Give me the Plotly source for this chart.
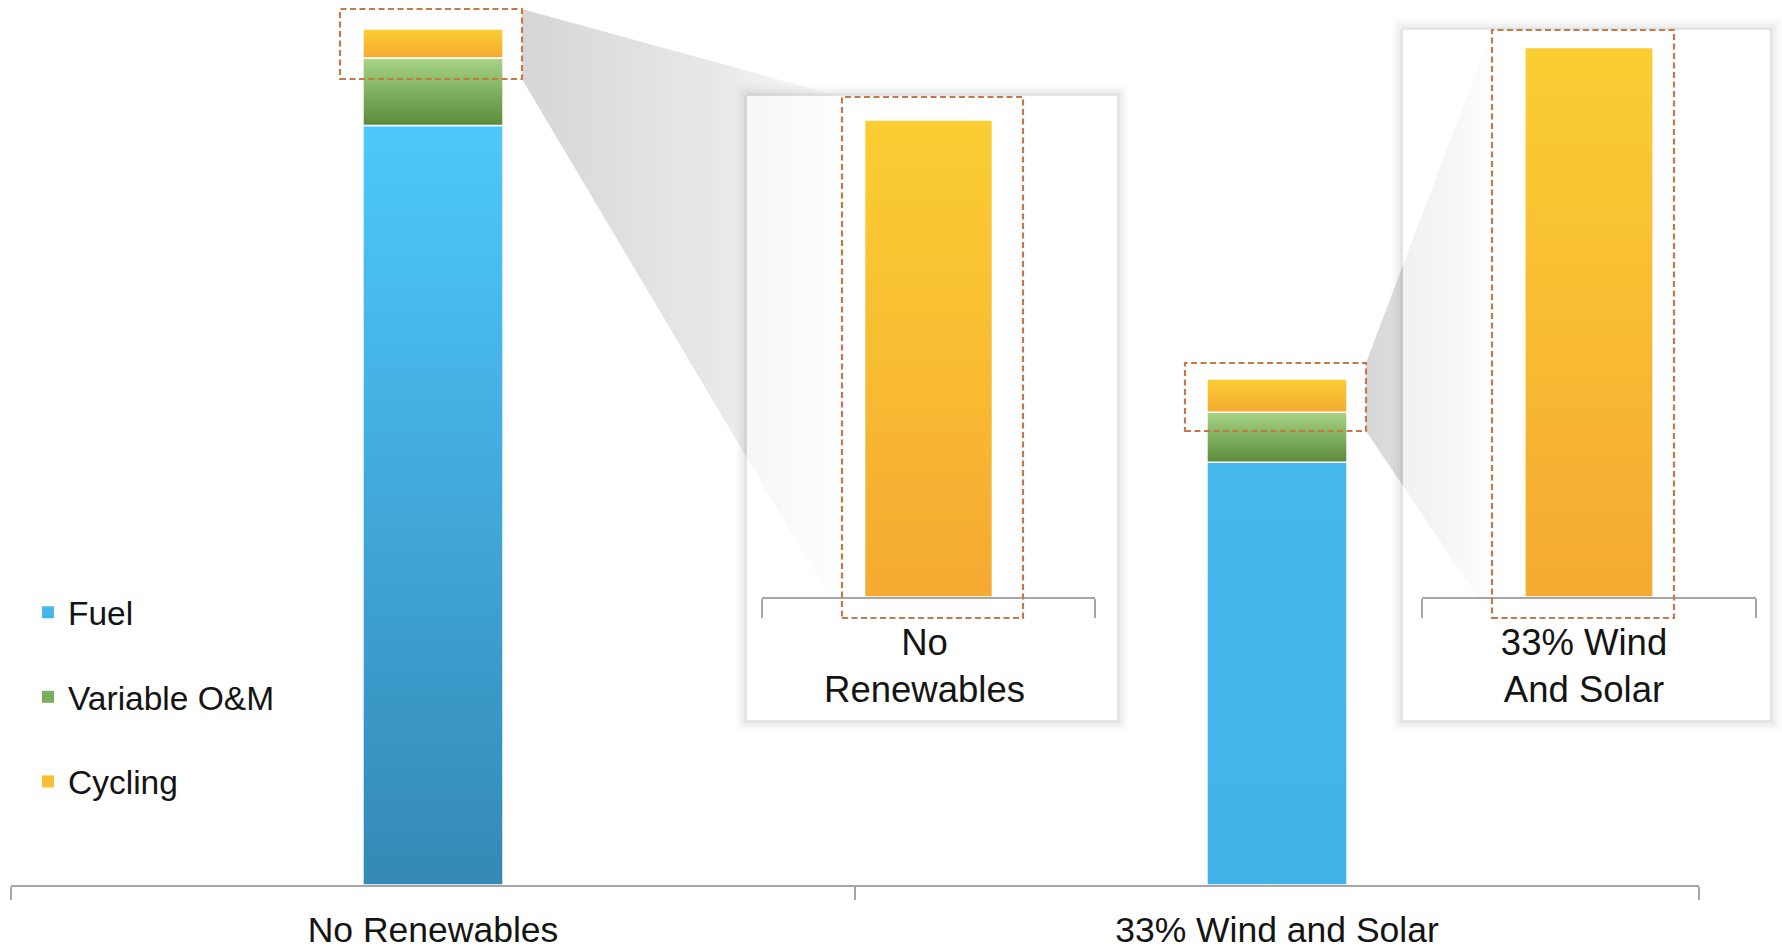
import plotly.graph_objects as go

W, H = 1782, 950

# ---- data -------------------------------------------------------------
categories = ["No Renewables", "33% Wind and Solar"]
inset_labels = ["No<br>Renewables", "33% Wind<br>And Solar"]
series_names = ["Fuel", "Variable O&M", "Cycling"]
fuel = [759.5, 422.7]
variable_om = [67.5, 50.0]
cycling = [28.9, 33.3]

# ---- styling ----------------------------------------------------------
FONT = "Liberation Sans, Arial, Helvetica, sans-serif"
TEXT = "#141414"
AXIS_GREY = "#A6A6A6"
DASH_COLOR = "#C27A48"

# legend colour plus a (bottom, top) gradient for each category's segment
SERIES_STYLE = {
    "Fuel": dict(color="#45B5EB",
                 grad=[("#3489B6", "#4EC8FC"), ("#43B3E9", "#46B7ED")]),
    "Variable O&M": dict(color="#7AAE5C",
                         grad=[("#5A8A3A", "#A7D585"), ("#5A8A3A", "#A7D585")]),
    "Cycling": dict(color="#F8BD33",
                    grad=[("#F5AA32", "#FBCE33"), ("#F5AA32", "#FBCE33")]),
}

MAIN_BAR_W = 0.166
INSET_BAR_W = 0.384
MAIN_Y_MAX = 885.0          # main axis top (plot spans baseline to top of page)
INSET_Y_MAX = 34.36         # shared scale of both zoom panels


def fx(p):
    return p / W


def fy(p):
    return 1 - p / H


def gradient_segment(xc, width, y0, y1, bottom, top, xa, ya):
    x0, x1 = xc - width / 2, xc + width / 2
    return go.Scatter(
        x=[x0, x1, x1, x0, x0], y=[y0, y0, y1, y1, y0],
        mode="lines", fill="toself",
        fillgradient=dict(type="vertical", colorscale=[[0, bottom], [1, top]],
                          start=y0, stop=y1),
        line=dict(color="white", width=1.5),
        hoverinfo="skip", showlegend=False, xaxis=xa, yaxis=ya,
    )


fig = go.Figure()

# ---- main stacked bars ------------------------------------------------
values = {"Fuel": fuel, "Variable O&M": variable_om, "Cycling": cycling}
xpos = list(range(len(categories)))
for name in series_names:
    fig.add_trace(go.Bar(
        x=xpos, y=values[name], name=name, width=MAIN_BAR_W,
        marker=dict(color=SERIES_STYLE[name]["color"], line=dict(width=0)),
        legendgroup=name, xaxis="x", yaxis="y",
        hovertemplate="%{y}<extra>" + name + "</extra>",
    ))

# shaded overlay for each stacked segment
for i in xpos:
    base = 0.0
    for name in series_names:
        v = values[name][i]
        bottom, top = SERIES_STYLE[name]["grad"][i]
        fig.add_trace(gradient_segment(i, MAIN_BAR_W, base, base + v,
                                       bottom, top, "x", "y"))
        base += v

# ---- zoom connectors and panels (pixel-space overlay subplot) --------
wedges = [
    # (apex x, apex top, apex bottom, far x, far top, far bottom)
    (522, 9, 79, 842, 97, 618),
    (1366, 363, 431, 1492, 30, 618),
]
for ax_, at, ab, bx, bt, bb in wedges:
    fig.add_trace(go.Scatter(
        x=[ax_, bx, bx, ax_, ax_], y=[at, bt, bb, ab, at],
        mode="lines", fill="toself",
        fillgradient=dict(type="horizontal",
                          colorscale=[[0, "rgb(214,214,214)"],
                                      [0.6, "rgb(232,232,232)"],
                                      [1, "rgb(252,252,252)"]],
                          start=ax_, stop=bx),
        line=dict(width=0, color="rgba(0,0,0,0)"),
        hoverinfo="skip", showlegend=False, xaxis="x2", yaxis="y2",
    ))

panels = [(747, 96, 1117, 720), (1403, 30, 1770, 720)]
halo = [(1.5, 3, 0.10), (4.5, 3, 0.06), (7.5, 3, 0.03), (10.5, 3, 0.012)]
for (x0, y0, x1, y1) in panels:
    for d, w, a in halo:
        fig.add_trace(go.Scatter(
            x=[x0 - d, x1 + d, x1 + d, x0 - d, x0 - d],
            y=[y0 - d, y0 - d, y1 + d, y1 + d, y0 - d],
            mode="lines", line=dict(color=f"rgba(0,0,0,{a})", width=w),
            hoverinfo="skip", showlegend=False, xaxis="x2", yaxis="y2",
        ))
    fig.add_trace(go.Scatter(
        x=[x0, x1, x1, x0, x0], y=[y0, y0, y1, y1, y0],
        mode="lines", fill="toself", fillcolor="rgba(255,255,255,0.55)",
        line=dict(width=0, color="rgba(0,0,0,0)"),
        hoverinfo="skip", showlegend=False, xaxis="x2", yaxis="y2",
    ))

# ---- zoomed cycling bars ---------------------------------------------
for i, (xa, ya) in enumerate([("x3", "y3"), ("x4", "y4")]):
    fig.add_trace(go.Bar(
        x=[0], y=[cycling[i]], width=INSET_BAR_W, name="Cycling",
        marker=dict(color=SERIES_STYLE["Cycling"]["color"], line=dict(width=0)),
        showlegend=False, xaxis=xa, yaxis=ya,
        hovertemplate="%{y}<extra>Cycling</extra>",
    ))
    bottom, top = SERIES_STYLE["Cycling"]["grad"][i]
    fig.add_trace(gradient_segment(0, INSET_BAR_W, 0, cycling[i], bottom, top, xa, ya))

# ---- dashed zoom frames ----------------------------------------------
frames = [(340, 9, 522, 79), (842, 97, 1023, 618),
          (1185, 363, 1366, 431), (1492, 30, 1674, 618)]
shapes = [
    dict(type="rect", xref="paper", yref="paper", layer="above",
         x0=fx(a), x1=fx(c), y0=fy(d), y1=fy(b),
         line=dict(color=DASH_COLOR, width=2.2, dash="6px,3.5px"),
         fillcolor="rgba(0,0,0,0)")
    for a, b, c, d in frames
]


def cat_axis(domain, rng, tickvals, ticktext, minor_vals, ticklen, size,
             standoff, anchor, lw, shift=0):
    return dict(
        domain=domain, range=rng, anchor=anchor, automargin=False,
        tickmode="array", tickvals=tickvals, ticktext=ticktext, ticks="",
        showline=True, linecolor=AXIS_GREY, linewidth=lw,
        showgrid=False, zeroline=False,
        tickfont=dict(family=FONT, size=size, color=TEXT),
        ticklabelstandoff=standoff, ticklabelshift=shift,
        minor=dict(tickmode="array", tickvals=minor_vals, ticks="outside",
                   ticklen=ticklen, tickwidth=1.5, tickcolor=AXIS_GREY,
                   showgrid=False),
        fixedrange=True,
    )


hidden = dict(visible=False, showgrid=False, zeroline=False, fixedrange=True,
              automargin=False)

fig.update_layout(
    width=W, height=H, autosize=False,
    margin=dict(l=0, r=0, t=0, b=0, pad=0, autoexpand=False),
    paper_bgcolor="white", plot_bgcolor="rgba(0,0,0,0)",
    barmode="stack", bargap=0,
    font=dict(family=FONT, color=TEXT),
    xaxis=cat_axis([fx(11), fx(1699)], [-0.5, 1.5], xpos, categories,
                   [-0.5, 0.5, 1.5], 13, 35.5, 12, "y", 2),
    yaxis=dict(domain=[fy(885), 1], range=[0, MAIN_Y_MAX], anchor="x", **hidden),
    xaxis2=dict(domain=[0, 1], range=[0, W], anchor="y2", **hidden),
    yaxis2=dict(domain=[0, 1], range=[H, 0], anchor="x2", **hidden),
    xaxis3=cat_axis([fx(762), fx(1095)], [-0.5, 0.5], [0], [inset_labels[0]],
                    [-0.5, 0.5], 19, 36.5, 12, "y3", 1.5, -4),
    yaxis3=dict(domain=[fy(597), fy(30)], range=[0, INSET_Y_MAX], anchor="x3", **hidden),
    xaxis4=cat_axis([fx(1422), fx(1756)], [-0.5, 0.5], [0], [inset_labels[1]],
                    [-0.5, 0.5], 19, 36.5, 12, "y4", 1.5, -5),
    yaxis4=dict(domain=[fy(597), fy(30)], range=[0, INSET_Y_MAX], anchor="x4", **hidden),
    legend=dict(
        x=fx(28), y=fy(584), xanchor="left", yanchor="top",
        orientation="v", traceorder="grouped", tracegroupgap=38,
        font=dict(family=FONT, size=33.5, color=TEXT),
        bgcolor="rgba(0,0,0,0)", borderwidth=0,
    ),
    shapes=shapes,
    showlegend=True,
)

fig.write_html("out.html")
